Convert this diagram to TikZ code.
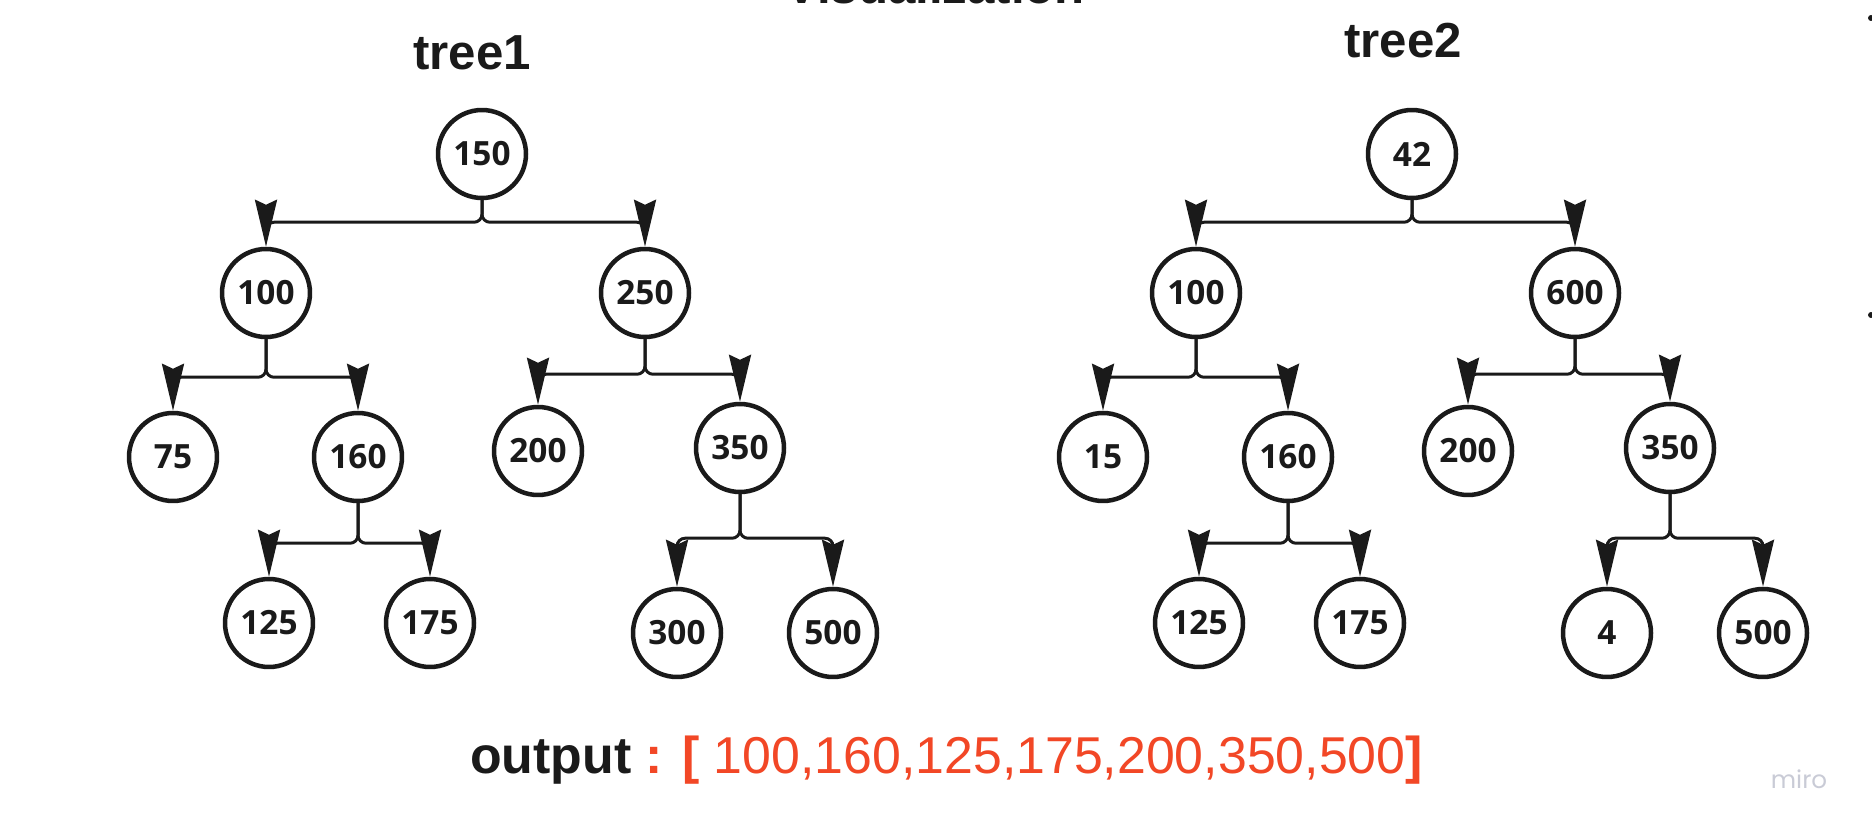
\documentclass[tikz,border=0pt]{standalone}
\usepackage{fontspec}
\setmainfont{Liberation Sans}
\newfontfamily\nodefont{Open Sans}
\newfontfamily\mirofont{Poppins}
\usetikzlibrary{arrows.meta,positioning}
\definecolor{treeink}{HTML}{1A1A1A}
\definecolor{outred}{HTML}{F24726}
\definecolor{mirogray}{HTML}{C9CBD6}

\begin{document}
\begin{tikzpicture}[
  x=0.02cm, y=-0.02cm,
  num/.style={circle, draw=treeink, line width=0.09cm, minimum size=1.76cm, inner sep=0pt,
              font=\nodefont\bfseries\fontsize{19}{19}\selectfont, text=treeink},
  heading/.style={font=\bfseries\fontsize{28}{28}\selectfont, text=treeink, anchor=base},
  arr/.style={-{Stealth[length=9.4mm, width=4.4mm, inset=1mm]}, line width=0.06cm,
              draw=treeink, rounded corners=0.16cm}
]
\useasboundingbox[fill=white] (0,0) rectangle (1872,834);

\node[heading] (head) at (935,4) {Visualization};
\node[heading] (title1) at (472,70) {tree1};
\node[heading] (title2) at (1403,58) {tree2};

% tree1
\node[num] (a150) at (482,154) {150};
\node[num] (a100) at (266,293) {100};
\node[num] (a250) at (645,293) {250};
\node[num] (a75) at (173,457) {75};
\node[num] (a160) at (358,457) {160};
\node[num] (a200) at (538,451) {200};
\node[num] (a350) at (740,448) {350};
\node[num] (a125) at (269,623) {125};
\node[num] (a175) at (430,623) {175};
\node[num] (a300) at (677,633) {300};
\node[num] (a500) at (833,633) {500};

\draw[arr] (a150.south) -- ++(0,22) -| (a100.north);
\draw[arr] (a150.south) -- ++(0,22) -| (a250.north);
\draw[arr] (a100.south) -- ++(0,38) -| (a75.north);
\draw[arr] (a100.south) -- ++(0,38) -| (a160.north);
\draw[arr] (a250.south) -- ++(0,35) -| (a200.north);
\draw[arr] (a250.south) -- ++(0,35) -| (a350.north);
\draw[arr] (a160.south) -- ++(0,40) -| (a125.north);
\draw[arr] (a160.south) -- ++(0,40) -| (a175.north);
\draw[arr] (a350.south) -- ++(0,44) -| (a300.north);
\draw[arr] (a350.south) -- ++(0,44) -| (a500.north);

% tree2
\node[num] (b42) at (1412,154) {42};
\node[num] (b100) at (1196,293) {100};
\node[num] (b600) at (1575,293) {600};
\node[num] (b15) at (1103,457) {15};
\node[num] (b160) at (1288,457) {160};
\node[num] (b200) at (1468,451) {200};
\node[num] (b350) at (1670,448) {350};
\node[num] (b125) at (1199,623) {125};
\node[num] (b175) at (1360,623) {175};
\node[num] (b4) at (1607,633) {4};
\node[num] (b500) at (1763,633) {500};

\draw[arr] (b42.south) -- ++(0,22) -| (b100.north);
\draw[arr] (b42.south) -- ++(0,22) -| (b600.north);
\draw[arr] (b100.south) -- ++(0,38) -| (b15.north);
\draw[arr] (b100.south) -- ++(0,38) -| (b160.north);
\draw[arr] (b600.south) -- ++(0,35) -| (b200.north);
\draw[arr] (b600.south) -- ++(0,35) -| (b350.north);
\draw[arr] (b160.south) -- ++(0,40) -| (b125.north);
\draw[arr] (b160.south) -- ++(0,40) -| (b175.north);
\draw[arr] (b350.south) -- ++(0,44) -| (b4.north);
\draw[arr] (b350.south) -- ++(0,44) -| (b500.north);

\node[anchor=base west, font=\fontsize{29.5}{29.5}\selectfont, text=treeink] (result) at (464,773)
  {\textbf{output} {\color{outred}\textbf{: [} 100,160,125,175,200,350,500\textbf{]}}};

\node[anchor=base, font=\mirofont\fontsize{14}{14}\selectfont, text=mirogray] (miro) at (1799,788) {miro};
\fill[treeink] (1871,18) circle (0.06cm);
\fill[treeink] (1871,315) circle (0.06cm);
\end{tikzpicture}
\end{document}
